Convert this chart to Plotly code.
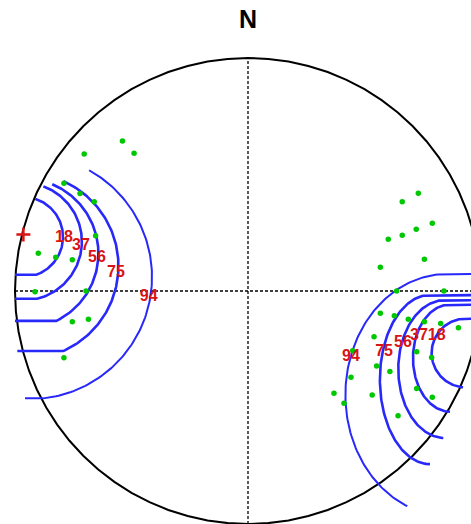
import numpy as np
import plotly.graph_objects as go

# ---- data (stereonet units, primitive radius = 1) ----
left_pts_x = [-0.539, -0.489, -0.703, -0.790, -0.721, -0.660, -0.654, -0.900, -0.825, -0.754,
              -0.914, -0.695, -0.754, -0.685, -0.790]
left_pts_y = [0.644, 0.591, 0.588, 0.462, 0.418, 0.383, 0.237, 0.162, 0.145, 0.134,
              -0.003, 0.000, -0.132, -0.121, -0.286]
right_pts_x = [0.731, 0.662, 0.791, 0.722, 0.662, 0.602, 0.757, 0.568, 0.638, 0.841,
               0.568, 0.628, 0.688, 0.757, 0.827, 0.903, 0.541, 0.724, 0.788, 0.449,
               0.552, 0.609, 0.442, 0.724, 0.369, 0.412, 0.533, 0.644, 0.791]
right_pts_y = [0.419, 0.383, 0.291, 0.265, 0.239, 0.222, 0.136, 0.102, 0.000, 0.000,
               -0.096, -0.106, -0.121, -0.132, -0.139, -0.158, -0.196, -0.261, -0.285, -0.256,
               -0.322, -0.346, -0.370, -0.418, -0.439, -0.482, -0.446, -0.535, -0.456]

cross_x = [-0.964]
cross_y = [0.243]

contour_labels = ["18", "37", "56", "75", "94"]
left_label_x = [-0.790, -0.717, -0.648, -0.567, -0.426]
left_label_y = [0.227, 0.193, 0.142, 0.077, -0.024]
right_label_x = [0.810, 0.734, 0.665, 0.584, 0.442]
right_label_y = [-0.193, -0.193, -0.224, -0.261, -0.285]

# contour arcs: centre, semi-axes, start/end angle (deg), tail end x
left_cx = [-0.966, -0.966, -0.964, -0.955, -0.936]
left_cy = [0.232, 0.212, 0.161, 0.107, 0.060]
left_a = [0.172, 0.253, 0.322, 0.399, 0.524]
left_b = [0.172, 0.253, 0.322, 0.399, 0.524]
left_t0 = [72.0, 69.7, 67.4, 65.9, 61.0]
left_t1 = [-70.5, -76.0, -64.0, -66.1, -83.7]
left_tail = [-1.0, -1.0, -1.0, -0.990, -0.957]

right_cx = [0.936, 0.867, 0.845, 0.781, 0.854]
right_cy = [-0.266, -0.288, -0.335, -0.380, -0.446]
right_a = [0.148, 0.159, 0.200, 0.215, 0.436]
right_b = [0.148, 0.230, 0.296, 0.363, 0.519]
right_t0 = [90.0, 90.0, 90.0, 90.0, 90.0]
right_t1 = [265.0, 270.0, 268.0, 270.0, 247.0]
right_tail = [1.0, 1.0, 1.0, 1.0, 1.0]

BLUE = "rgb(40,40,250)"
RED = "#d81414"
GREEN = "#00c800"
arc_width = [2.6, 2.6, 2.6, 2.6, 2.0]

fig = go.Figure()

# primitive circle
th = np.linspace(0, 2 * np.pi, 73)
fig.add_trace(go.Scatter(x=np.cos(th), y=np.sin(th), mode="lines",
                         line=dict(color="black", width=2), hoverinfo="skip"))
# crosshair
fig.add_trace(go.Scatter(x=[-1, 1], y=[0, 0], mode="lines",
                         line=dict(color="black", width=1.3, dash="3px,2px"), hoverinfo="skip"))
fig.add_trace(go.Scatter(x=[0, 0], y=[-1, 1], mode="lines",
                         line=dict(color="black", width=1.3, dash="3px,2px"), hoverinfo="skip"))


def arc(cx, cy, a, b, t0, t1, n=120):
    t = np.radians(np.linspace(t0, t1, n))
    return cx + a * np.cos(t), cy + b * np.sin(t)


for i in range(5):
    x, y = arc(left_cx[i], left_cy[i], left_a[i], left_b[i], left_t0[i], left_t1[i])
    x = np.append(x, left_tail[i])
    y = np.append(y, y[-1])
    fig.add_trace(go.Scatter(x=x, y=y, mode="lines", line=dict(color=BLUE, width=arc_width[i]),
                             hoverinfo="skip"))
    x, y = arc(right_cx[i], right_cy[i], right_a[i], right_b[i], right_t0[i], right_t1[i])
    x = np.insert(x, 0, right_tail[i])
    y = np.insert(y, 0, y[0])
    fig.add_trace(go.Scatter(x=x, y=y, mode="lines", line=dict(color=BLUE, width=arc_width[i]),
                             hoverinfo="skip"))

# poles
fig.add_trace(go.Scatter(x=left_pts_x + right_pts_x, y=left_pts_y + right_pts_y, mode="markers",
                         marker=dict(color=GREEN, size=5.5, line=dict(width=0)), hoverinfo="skip"))

# mean / cross marker
fig.add_trace(go.Scatter(x=cross_x, y=cross_y, mode="markers",
                         marker=dict(symbol="cross-thin", size=10, line=dict(color=RED, width=2.5)),
                         hoverinfo="skip"))

# contour labels
fig.add_trace(go.Scatter(x=left_label_x + right_label_x, y=left_label_y + right_label_y,
                         mode="text", text=["<b>%s</b>" % s for s in contour_labels + contour_labels],
                         textposition="middle center",
                         textfont=dict(family="Liberation Sans, Arial, sans-serif", size=16, color=RED),
                         hoverinfo="skip"))

fig.add_annotation(x=0, y=1.1695, text="<b>N</b>", showarrow=False,
                   font=dict(family="Liberation Sans, Arial, sans-serif", size=25, color="black"),
                   xanchor="center", yanchor="middle")

fig.update_layout(
    width=471, height=524, autosize=False,
    margin=dict(l=0, r=0, t=0, b=0),
    paper_bgcolor="white", plot_bgcolor="white",
    showlegend=False,
    xaxis=dict(range=[-248 / 233, 223 / 233], visible=False, fixedrange=True),
    yaxis=dict(range=[-1.0, 291 / 233], visible=False, fixedrange=True),
)

fig.write_html("out.html")
